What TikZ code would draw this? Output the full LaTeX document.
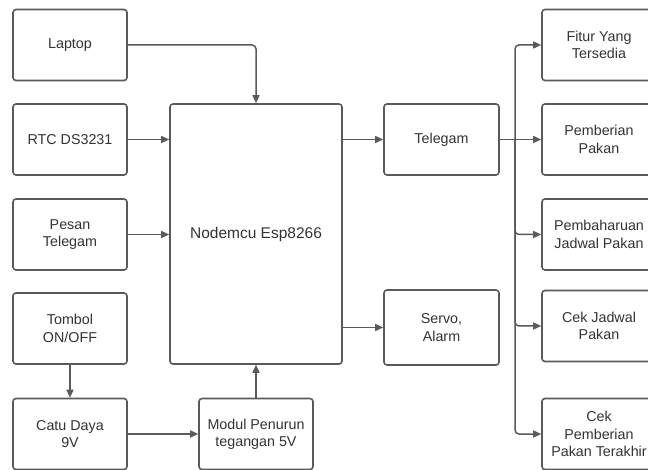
\documentclass[tikz,border=0pt]{standalone}
\usepackage{fontspec}
\setmainfont{Liberation Sans}
\usetikzlibrary{arrows.meta}
\definecolor{ln}{HTML}{5A5A5A}
\definecolor{tx}{HTML}{333333}
\tikzset{
  box/.style={draw=ln, line width=1.6pt, rounded corners=3pt, fill=white,
    minimum width=114pt, minimum height=71pt, align=center, text=tx,
    font=\fontsize{14.3}{17.3}\selectfont, inner sep=2pt},
  arr/.style={draw=ln, line width=1.5pt, -{Triangle[length=8pt,width=7pt]}, rounded corners=4pt}
}
\begin{document}
\begin{tikzpicture}[x=1pt,y=-1pt]
\clip (0,0) rectangle (648,470);
\fill[white] (0,0) rectangle (648,470);
% left column
\node[box] (laptop) at (70,45) {Laptop};
\node[box] (rtc) at (70,139.5) {RTC DS3231};
\node[box] (pesan) at (70,234.5) {Pesan\\Telegam};
\node[box] (tombol) at (70,328.5) {Tombol\\ON/OFF};
\node[box] (catu) at (70,434) {Catu Daya\\9V};
\node[box] (modul) at (256,434) {Modul Penurun\\tegangan 5V};
% center
\node[box, minimum width=172pt, minimum height=260pt, font=\fontsize{15.5}{18}\selectfont] (nodemcu) at (256,234) {Nodemcu Esp8266};
\node[box, minimum width=115pt] (telegam) at (441.5,139.5) {Telegam};
\node[box, minimum width=115pt, minimum height=75pt] (servo) at (441.5,327.5) {Servo,\\Alarm};
% right column
\node[box] (fitur) at (599,45) {Fitur Yang\\Tersedia};
\node[box] (pemberian) at (599,139.5) {Pemberian\\Pakan};
\node[box] (pembaharuan) at (599,234.5) {Pembaharuan\\Jadwal Pakan};
\node[box] (cekjadwal) at (599,326) {Cek Jadwal\\Pakan};
\node[box] (cekpemberian) at (599,434) {Cek\\Pemberian\\Pakan Terakhir};
% connectors
\draw[arr] (laptop.east) -| (nodemcu.north);
\draw[arr] (rtc.east) -- (rtc.east -| nodemcu.west);
\draw[arr] (pesan.east) -- (pesan.east -| nodemcu.west);
\draw[arr] (tombol.south) -- (catu.north);
\draw[arr] (catu.east) -- (modul.west);
\draw[arr] (modul.north) -- (nodemcu.south);
\draw[arr] (telegam.west -| nodemcu.east) -- (telegam.west);
\draw[arr] (servo.west -| nodemcu.east) -- (servo.west);
\coordinate (tr) at (515,139.5);
\draw[arr] (telegam.east) -- (pemberian.west);
\draw[arr] (tr) |- (fitur.west);
\draw[arr] (tr) |- (pembaharuan.west);
\draw[arr] (tr) |- (cekjadwal.west);
\draw[arr] (tr) |- (cekpemberian.west);
\end{tikzpicture}
\end{document}
